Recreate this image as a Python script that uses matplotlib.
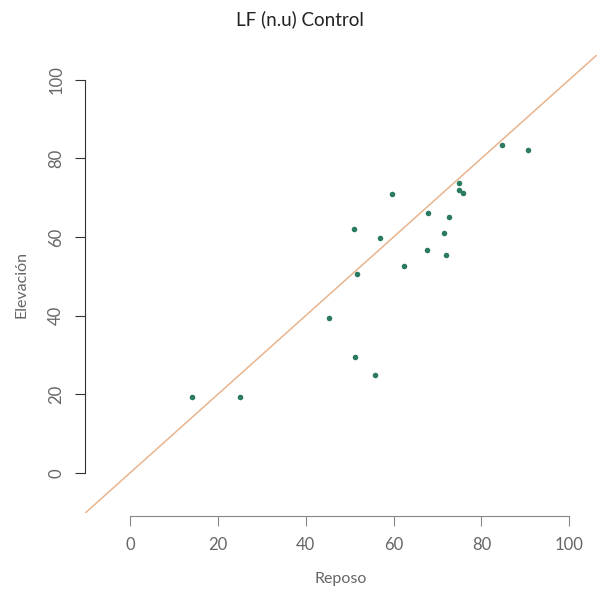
import matplotlib
matplotlib.use('Agg')
import matplotlib.pyplot as plt

plt.rcParams['font.family'] = ['Lato', 'DejaVu Sans']

# Reposo (x) vs Elevacion (y)
reposo = [14.1, 24.9, 45.2, 51.3, 55.8, 51.6, 50.9, 56.9, 59.6, 62.3,
          67.6, 67.9, 71.5, 72.0, 72.7, 74.9, 74.9, 75.7, 84.7, 90.7]
elevacion = [19.2, 19.2, 39.5, 29.4, 24.8, 50.6, 61.9, 59.8, 70.9, 52.7,
             56.8, 66.0, 60.9, 55.3, 65.1, 73.8, 71.9, 71.3, 83.4, 82.2]
ticks = [0, 20, 40, 60, 80, 100]

fig = plt.figure(figsize=(6, 5.95), dpi=100)
ax = fig.add_axes([0.1417, 0.1375, 0.853, 0.770])

ax.scatter(reposo, elevacion, s=16, c='#2b7a62', zorder=3, linewidths=0)
ax.axline((0, 0), slope=1, color='#e8b48e', lw=1.1, zorder=2)

ax.set_xlim(-10.3, 106.3)
ax.set_ylim(-10.3, 106.3)

for s in ['top', 'right']:
    ax.spines[s].set_visible(False)
ax.spines['left'].set_bounds(0, 100)
ax.spines['bottom'].set_bounds(0, 100)
ax.spines['left'].set_color('#333333')
ax.spines['bottom'].set_color('#888888')
ax.spines['bottom'].set_position(('outward', 2))

ax.set_xticks(ticks)
ax.set_yticks(ticks)
ax.tick_params(axis='x', colors='#888888', labelcolor='#666666', length=7,
               pad=8, labelsize=12)
ax.tick_params(axis='y', colors='#333333', labelcolor='#666666', length=7,
               pad=8, labelsize=12)
for lab in ax.get_yticklabels():
    lab.set_rotation(90)
    lab.set_va('center')

ax.set_xlabel('Reposo', color='#666666', fontsize=11.5, labelpad=14)
ax.set_ylabel('Elevación', color='#666666', fontsize=11.5, labelpad=14)
fig.text(0.5, 0.968, 'LF (n.u) Control', ha='center', va='center',
         fontsize=13.5, color='#222222')

fig.savefig('out.png', dpi=100)
